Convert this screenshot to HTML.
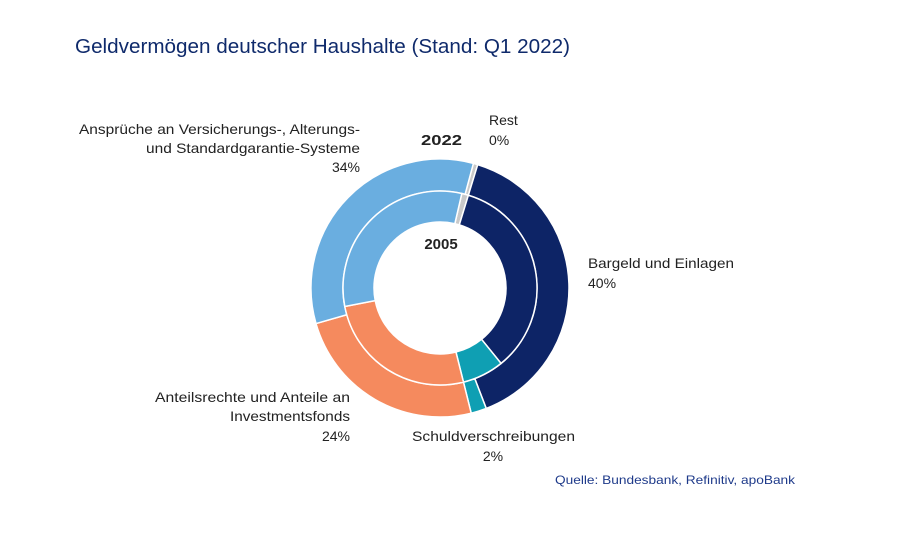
<!DOCTYPE html>
<html><head><meta charset="utf-8"><style>
html,body{margin:0;padding:0;background:#fff;}
svg{display:block;font-family:"Liberation Sans",sans-serif;}
</style></head><body>
<svg id="s" width="911" height="534" viewBox="0 0 911 534" xmlns="http://www.w3.org/2000/svg">
<rect width="911" height="534" fill="#fff"/>
<text x="75" y="53" font-size="20" fill="#0f2a6b" textLength="495" lengthAdjust="spacingAndGlyphs">Geldvermögen deutscher Haushalte (Stand: Q1 2022)</text>
<g id="rings"></g>
<g font-size="14" fill="#222">
<text x="360" y="134" text-anchor="end" textLength="281" lengthAdjust="spacingAndGlyphs">Ansprüche an Versicherungs-, Alterungs-</text>
<text x="360" y="153" text-anchor="end" textLength="214" lengthAdjust="spacingAndGlyphs">und Standardgarantie-Systeme</text>
<text x="360" y="172" text-anchor="end">34%</text>
<text x="489" y="125">Rest</text>
<text x="489" y="145">0%</text>
<text x="421" y="145" font-weight="bold" font-size="15" textLength="41" lengthAdjust="spacingAndGlyphs">2022</text>
<text x="441" y="249" font-weight="bold" font-size="15" text-anchor="middle">2005</text>
<text x="588" y="268" textLength="146" lengthAdjust="spacingAndGlyphs">Bargeld und Einlagen</text>
<text x="588" y="288">40%</text>
<text x="350" y="402" text-anchor="end" textLength="195" lengthAdjust="spacingAndGlyphs">Anteilsrechte und Anteile an</text>
<text x="350" y="421" text-anchor="end" textLength="120" lengthAdjust="spacingAndGlyphs">Investmentsfonds</text>
<text x="350" y="441" text-anchor="end">24%</text>
<text x="412" y="441" textLength="163" lengthAdjust="spacingAndGlyphs">Schuldverschreibungen</text>
<text x="493" y="461" text-anchor="middle">2%</text>
</g>
<text x="555" y="484" font-size="12" fill="#1e3a8a" textLength="240" lengthAdjust="spacingAndGlyphs">Quelle: Bundesbank, Refinitiv, apoBank</text>
</svg>
<script>
var cx=440,cy=288;
function pt(r,a){var t=(a)*Math.PI/180;return [cx+r*Math.sin(t),cy-r*Math.cos(t)];}
function arc(r1,r2,a1,a2,col){
 var p1=pt(r2,a1),p2=pt(r2,a2),p3=pt(r1,a2),p4=pt(r1,a1),l=(a2-a1)>180?1:0;
 return '<path d="M'+p1+' A'+r2+','+r2+' 0 '+l+' 1 '+p2+' L'+p3+' A'+r1+','+r1+' 0 '+l+' 0 '+p4+'Z" fill="'+col+'" stroke="#fff" stroke-width="1.5"/>';}
var h='';
var outer=[[15,17,'#c9c9c9'],[17,159,'#0d2466'],[159,166,'#0f9fb3'],[166,254,'#f58a5e'],[254,375,'#6aaee0']];
var inner=[[13,17,'#c9c9c9'],[17,141,'#0d2466'],[141,166,'#0f9fb3'],[166,259,'#f58a5e'],[259,373,'#6aaee0']];
outer.forEach(function(s){h+=arc(97,129,s[0],s[1],s[2]);});
inner.forEach(function(s){h+=arc(66,97,s[0],s[1],s[2]);});
document.getElementById('rings').innerHTML=h;
</script>
</body></html>
